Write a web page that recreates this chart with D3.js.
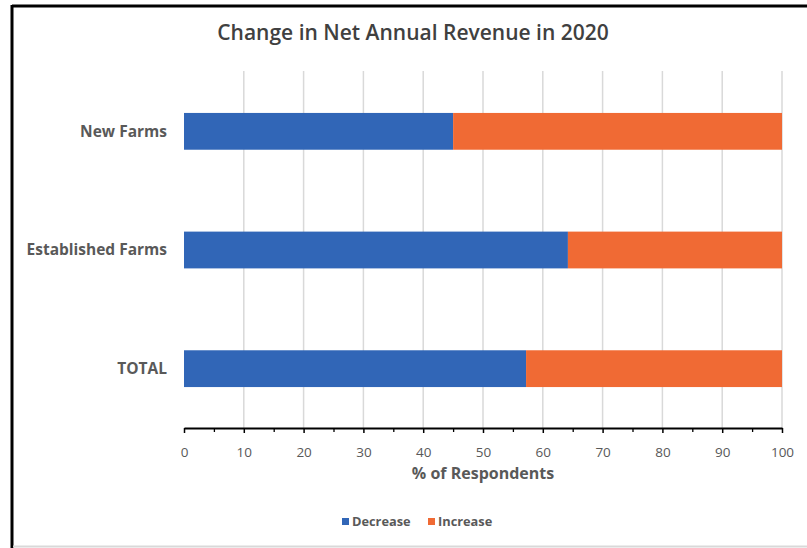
<!DOCTYPE html>
<html>
<head>
<meta charset="utf-8">
<script src="https://cdn.jsdelivr.net/npm/d3@7/dist/d3.min.js"></script>
<style>
  html, body { margin: 0; padding: 0; background: #fff; }
  svg { display: block; }
</style>
</head>
<body>
<svg id="chart" width="807" height="548"></svg>
<script>
// Survey results: share of respondents reporting a decrease vs increase
const categories = ["New Farms", "Established Farms", "TOTAL"];
const decrease = [45, 64.2, 57.2];
const increase = [55, 35.8, 42.8];
const seriesNames = ["Decrease", "Increase"];
const xTicks = [0, 10, 20, 30, 40, 50, 60, 70, 80, 90, 100];

const colors = { Decrease: "#3166b7", Increase: "#f06a34" };
const W = 807, H = 548;
const font = "'Open Sans', 'Liberation Sans', sans-serif";

const svg = d3.select("#chart");

// frame
svg.append("rect").attr("x", 0).attr("y", 0).attr("width", W).attr("height", H).attr("fill", "#fff");
svg.append("line").attr("x1", 12).attr("x2", W).attr("y1", 6).attr("y2", 6)
  .attr("stroke", "#000").attr("stroke-width", 3);
svg.append("line").attr("x1", 12).attr("x2", 12).attr("y1", 5).attr("y2", H)
  .attr("stroke", "#000").attr("stroke-width", 3);
svg.append("line").attr("x1", 13).attr("x2", W).attr("y1", 546.5).attr("y2", 546.5)
  .attr("stroke", "#d9d9d9").attr("stroke-width", 2);

const x = d3.scaleLinear().domain([0, 100]).range([184, 782]);
const y = d3.scaleBand().domain(categories).range([72, 428]).paddingInner(0.69).paddingOuter(0.345);

// gridlines
svg.append("g").selectAll("line").data(xTicks.slice(1)).join("line")
  .attr("x1", d => x(d)).attr("x2", d => x(d))
  .attr("y1", 71).attr("y2", 428)
  .attr("stroke", "#d9d9d9").attr("stroke-width", 1.5);

// stacked bars
const rows = categories.map((c, i) => ({ cat: c, Decrease: decrease[i], Increase: increase[i] }));
const stack = d3.stack().keys(seriesNames)(rows);
svg.append("g").selectAll("g").data(stack).join("g")
  .attr("fill", s => colors[s.key])
  .selectAll("rect").data(s => s).join("rect")
  .attr("x", d => x(d[0]))
  .attr("width", d => x(d[1]) - x(d[0]))
  .attr("y", d => y(d.data.cat))
  .attr("height", y.bandwidth());

// x axis with major and minor ticks
const axisG = svg.append("g").attr("transform", "translate(0,428)");
axisG.append("g")
  .call(d3.axisBottom(x).tickValues(d3.range(5, 100, 10)).tickSize(4).tickFormat(""))
  .call(g => g.select(".domain").remove())
  .call(g => g.selectAll("line").attr("stroke", "#000").attr("stroke-width", 1.3));
axisG.append("g")
  .call(d3.axisBottom(x).tickValues(xTicks).tickSize(5).tickSizeOuter(0).tickPadding(14))
  .call(g => g.select(".domain").attr("stroke", "#000").attr("stroke-width", 2))
  .call(g => g.selectAll(".tick line").attr("stroke", "#000").attr("stroke-width", 1.5))
  .call(g => g.selectAll("text").attr("fill", "#595959").attr("font-size", 13.5)
    .attr("font-family", font));

// y category labels
svg.append("g").selectAll("text").data(categories).join("text")
  .attr("x", 167).attr("y", d => y(d) + y.bandwidth() / 2)
  .attr("dy", "0.35em").attr("text-anchor", "end")
  .attr("font-family", font).attr("font-weight", 700).attr("font-size", 15.5)
  .attr("fill", "#595959").text(d => d);

// title
svg.append("text").attr("x", 413).attr("y", 40).attr("text-anchor", "middle")
  .attr("font-family", font).attr("font-weight", 600).attr("font-size", 21)
  .attr("fill", "#404040").text("Change in Net Annual Revenue in 2020");

// axis title
svg.append("text").attr("x", 483).attr("y", 479).attr("text-anchor", "middle")
  .attr("font-family", font).attr("font-weight", 700).attr("font-size", 16)
  .attr("fill", "#595959").text("% of Respondents");

// legend
const legendX = [342, 428];
const lg = svg.append("g").selectAll("g").data(seriesNames).join("g")
  .attr("transform", (d, i) => `translate(${legendX[i]},522)`);
lg.append("rect").attr("x", 0).attr("y", -4).attr("width", 7).attr("height", 7)
  .attr("fill", d => colors[d]);
lg.append("text").attr("x", 10).attr("y", 0).attr("dy", "0.35em")
  .attr("font-family", font).attr("font-weight", 700).attr("font-size", 12.8)
  .attr("fill", "#595959").text(d => d);
</script>
</body>
</html>
